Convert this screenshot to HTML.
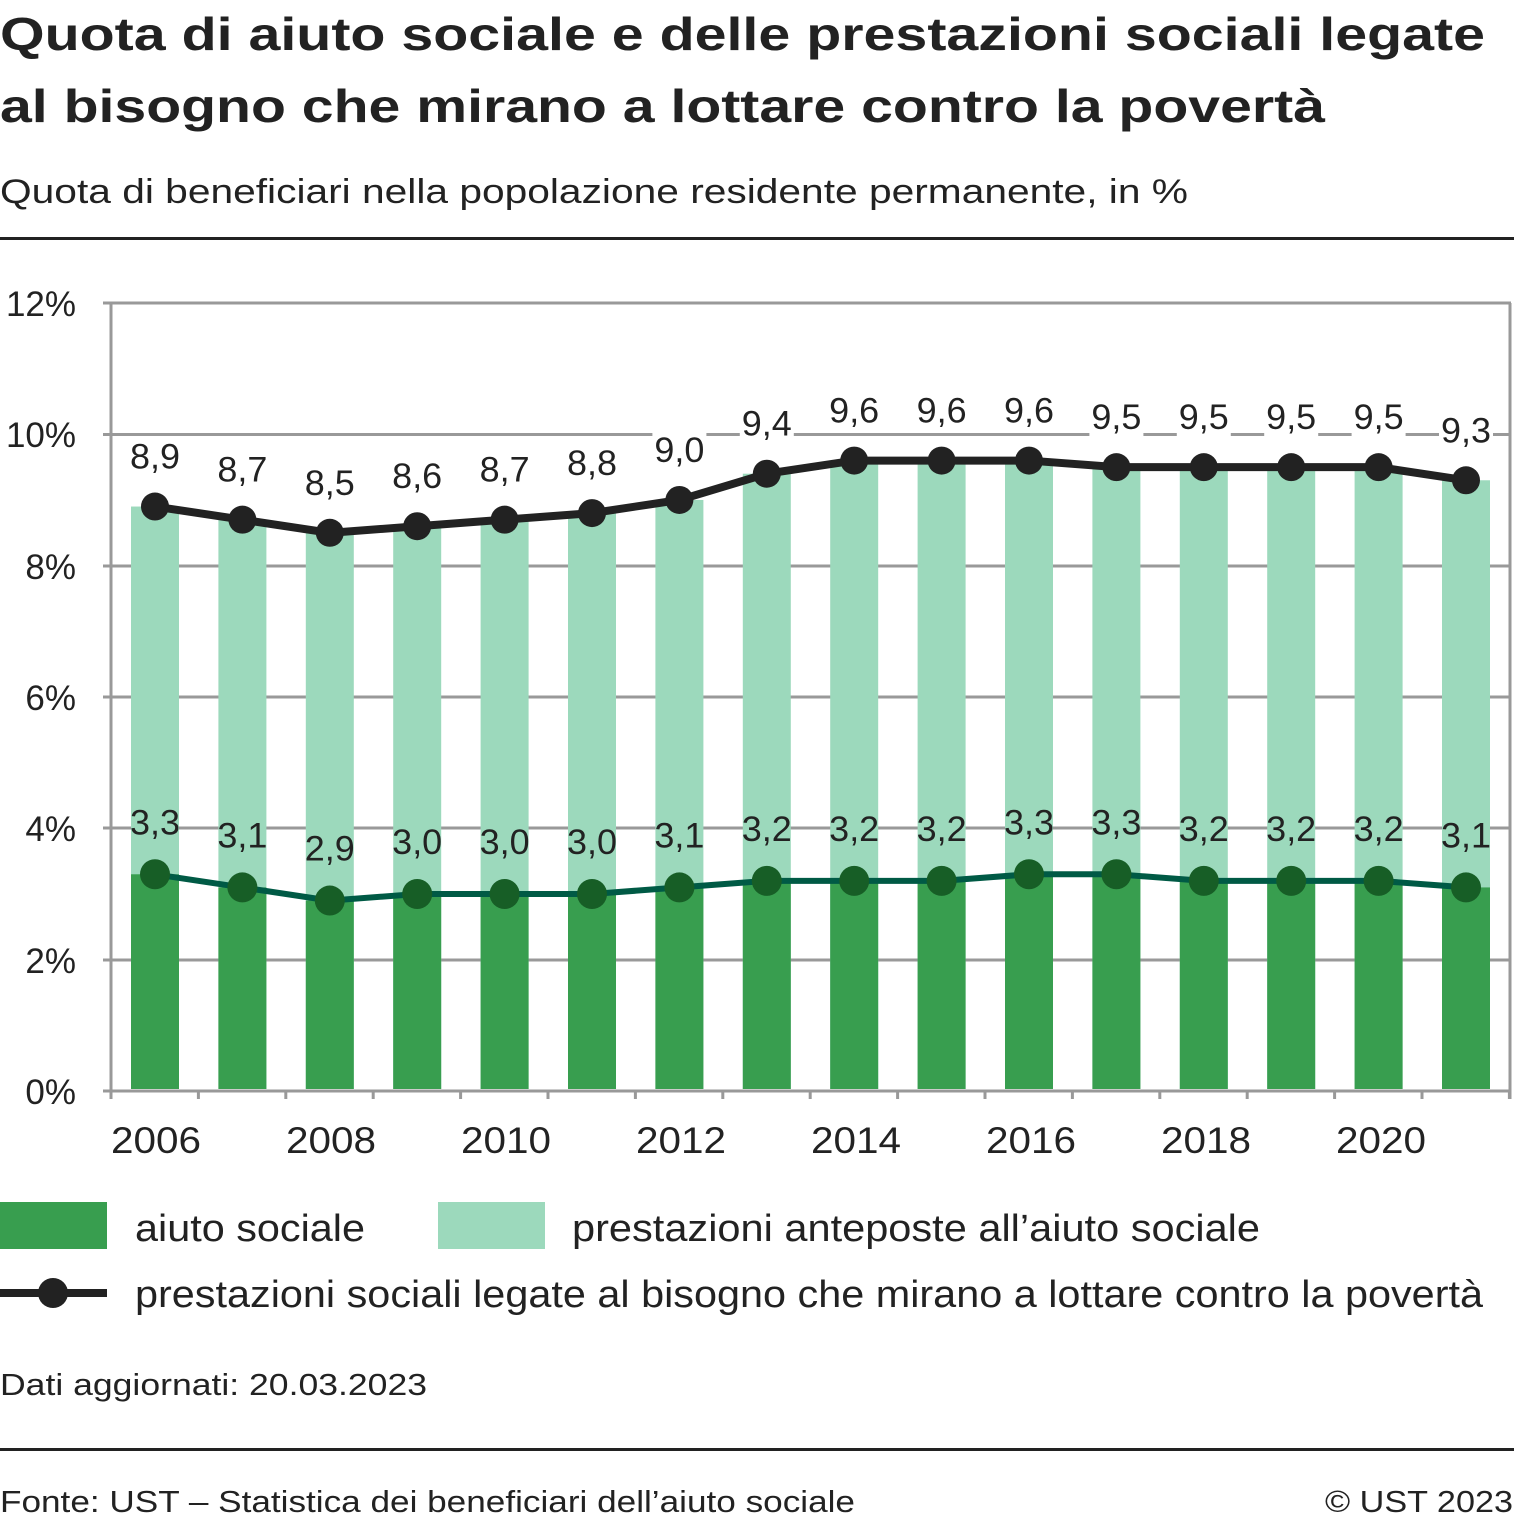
<!DOCTYPE html>
<html><head><meta charset="utf-8"><style>
html,body{margin:0;padding:0;background:#fff;}
svg{display:block;}
text{font-family:"Liberation Sans",sans-serif;fill:#222;}
</style></head><body>
<svg width="1514" height="1521" viewBox="0 0 1514 1521" xmlns="http://www.w3.org/2000/svg">
<text x="0" y="50" font-size="46" font-weight="bold" textLength="1485" lengthAdjust="spacingAndGlyphs">Quota di aiuto sociale e delle prestazioni sociali legate</text>
<text x="0" y="122" font-size="46" font-weight="bold" textLength="1325" lengthAdjust="spacingAndGlyphs">al bisogno che mirano a lottare contro la povertà</text>
<text x="0" y="203" font-size="34" textLength="1188" lengthAdjust="spacingAndGlyphs">Quota di beneficiari nella popolazione residente permanente, in %</text>
<rect x="0" y="237" width="1514" height="3" fill="#222"/>
<g stroke="#999" stroke-width="3">
<line x1="103" y1="303" x2="1511" y2="303"/>
<line x1="103" y1="434.5" x2="1511" y2="434.5"/>
<line x1="103" y1="566" x2="1511" y2="566"/>
<line x1="103" y1="697" x2="1511" y2="697"/>
<line x1="103" y1="828" x2="1511" y2="828"/>
<line x1="103" y1="960" x2="1511" y2="960"/>
<line x1="103" y1="1091" x2="1511" y2="1091"/>
<line x1="111" y1="303" x2="111" y2="1099"/>
<line x1="1510" y1="303" x2="1510" y2="1099"/>
</g>
<g font-size="35" text-anchor="end">
<text x="76" y="316">12%</text><text x="76" y="447">10%</text><text x="76" y="579">8%</text><text x="76" y="710">6%</text><text x="76" y="841">4%</text><text x="76" y="973">2%</text><text x="76" y="1104">0%</text>
</g>
<g id="chart"></g>
<g font-size="37">
<text x="111" y="1153" textLength="90" lengthAdjust="spacingAndGlyphs">2006</text><text x="286" y="1153" textLength="90" lengthAdjust="spacingAndGlyphs">2008</text><text x="461" y="1153" textLength="90" lengthAdjust="spacingAndGlyphs">2010</text><text x="636" y="1153" textLength="90" lengthAdjust="spacingAndGlyphs">2012</text><text x="811" y="1153" textLength="90" lengthAdjust="spacingAndGlyphs">2014</text><text x="986" y="1153" textLength="90" lengthAdjust="spacingAndGlyphs">2016</text><text x="1161" y="1153" textLength="90" lengthAdjust="spacingAndGlyphs">2018</text><text x="1336" y="1153" textLength="90" lengthAdjust="spacingAndGlyphs">2020</text>
</g>
<rect x="0" y="1202" width="107" height="47" fill="#389e4f"/>
<text x="135" y="1241" font-size="38" textLength="230" lengthAdjust="spacingAndGlyphs">aiuto sociale</text>
<rect x="438" y="1202" width="107" height="47" fill="#9cd9bc"/>
<text x="572" y="1241" font-size="38" textLength="688" lengthAdjust="spacingAndGlyphs">prestazioni anteposte all’aiuto sociale</text>
<line x1="0" y1="1293" x2="107" y2="1293" stroke="#222" stroke-width="8"/>
<circle cx="53" cy="1293" r="15" fill="#222"/>
<text x="135" y="1307" font-size="38" textLength="1348" lengthAdjust="spacingAndGlyphs">prestazioni sociali legate al bisogno che mirano a lottare contro la povertà</text>
<text x="0" y="1395" font-size="31" textLength="427" lengthAdjust="spacingAndGlyphs">Dati aggiornati: 20.03.2023</text>
<rect x="0" y="1448" width="1514" height="3" fill="#222"/>
<text x="0" y="1512" font-size="31" textLength="855" lengthAdjust="spacingAndGlyphs">Fonte: UST – Statistica dei beneficiari dell’aiuto sociale</text>
<text x="1513" y="1512" font-size="31" text-anchor="end" textLength="188" lengthAdjust="spacingAndGlyphs">© UST 2023</text>
</svg>
<script>
var tot=[8.9,8.7,8.5,8.6,8.7,8.8,9.0,9.4,9.6,9.6,9.6,9.5,9.5,9.5,9.5,9.3];
var aid=[3.3,3.1,2.9,3.0,3.0,3.0,3.1,3.2,3.2,3.2,3.3,3.3,3.2,3.2,3.2,3.1];
function y(v){return 1091-v*65.67;}
function X(i){return 155+i*87.4;}
var s='';
for(var i=0;i<=16;i++){var tx=111+i*87.4;s+='<line x1="'+tx+'" y1="1091" x2="'+tx+'" y2="1099" stroke="#999" stroke-width="3"/>';}
for(var i=0;i<16;i++){var x=X(i);
s+='<rect x="'+(x-24)+'" y="'+y(tot[i])+'" width="48" height="'+(1089-y(tot[i]))+'" fill="#9cd9bc"/>';
s+='<rect x="'+(x-24)+'" y="'+y(aid[i])+'" width="48" height="'+(1089-y(aid[i]))+'" fill="#389e4f"/>';}
var p1='',p2='';
for(var i=0;i<16;i++){p1+=X(i)+','+y(tot[i])+' ';p2+=X(i)+','+y(aid[i])+' ';}
s+='<polyline points="'+p2+'" fill="none" stroke="#005a45" stroke-width="6"/>';
s+='<polyline points="'+p1+'" fill="none" stroke="#222" stroke-width="8"/>';
for(var i=0;i<16;i++){var x=X(i);
s+='<circle cx="'+x+'" cy="'+y(aid[i])+'" r="15" fill="#175e26"/>';
s+='<circle cx="'+x+'" cy="'+y(tot[i])+'" r="14" fill="#222"/>';
var lt=tot[i].toFixed(1).replace('.',','),la=aid[i].toFixed(1).replace('.',',');
var ty=y(tot[i])-38;
s+='<rect x="'+(x-27)+'" y="'+(ty-29)+'" width="54" height="36" fill="#fff"/>';
s+='<text x="'+x+'" y="'+ty+'" font-size="35" text-anchor="middle" textLength="50" lengthAdjust="spacingAndGlyphs">'+lt+'</text>';
s+='<text x="'+x+'" y="'+(y(aid[i])-40)+'" font-size="35" text-anchor="middle" textLength="50" lengthAdjust="spacingAndGlyphs">'+la+'</text>';}
document.getElementById('chart').innerHTML=s;
</script>
</body></html>
